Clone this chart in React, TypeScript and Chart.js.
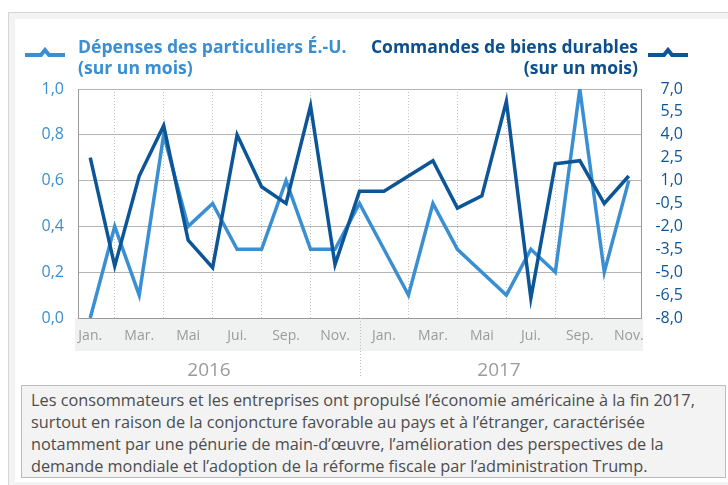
import React, { useEffect, useRef } from 'react';
import { Chart, registerables } from 'chart.js';

Chart.register(...registerables);

// ---- data ----
const months = [
  'Jan.', 'Févr.', 'Mar.', 'Avr.', 'Mai', 'Juin', 'Jui.', 'Août', 'Sep.', 'Oct.', 'Nov.', 'Déc.',
  'Jan.', 'Févr.', 'Mar.', 'Avr.', 'Mai', 'Juin', 'Jui.', 'Août', 'Sep.', 'Oct.', 'Nov.',
];
const years = ['2016', '2017'];
const spending = [0.0, 0.4, 0.1, 0.8, 0.4, 0.5, 0.3, 0.3, 0.6, 0.3, 0.3, 0.5, 0.3, 0.1, 0.5, 0.3, 0.2, 0.1, 0.3, 0.2, 1.0, 0.2, 0.6];
const durable = [2.5, -4.6, 1.3, 4.6, -2.9, -4.7, 4.0, 0.6, -0.5, 5.9, -4.5, 0.3, 0.3, 1.3, 2.3, -0.8, 0.0, 6.2, -6.7, 2.1, 2.3, -0.5, 1.3];
const leftAxis = { min: 0, max: 1, step: 0.2 };
const rightAxis = { min: -8, max: 7, step: 1.5 };
const yearSplitIndex = 11;

const LIGHT = '#3a8fd2';
const DARK = '#0c5697';
const FONT = '"Open Sans", "Noto Sans", sans-serif';

const fmt = (v: number) => Number(v).toFixed(1).replace('.', ',');

const decorPlugin = {
  id: 'decor',
  beforeDraw(chart: any) {
    const { ctx, chartArea } = chart;
    ctx.save();
    ctx.fillStyle = '#f0f2f2';
    ctx.fillRect(chartArea.left - 3, chartArea.bottom, chartArea.right - chartArea.left + 5, 33);
    ctx.restore();
  },
  afterDraw(chart: any) {
    const { ctx, chartArea } = chart;
    const x = Math.round(chart.scales.x.getPixelForValue(yearSplitIndex)) + 0.5;
    ctx.save();
    ctx.strokeStyle = '#bdbdbd';
    ctx.lineWidth = 1;
    ctx.setLineDash([1, 2]);
    ctx.beginPath();
    ctx.moveTo(x, chartArea.bottom);
    ctx.lineTo(x, chartArea.bottom + 59);
    ctx.stroke();
    ctx.restore();
  },
};

export default function App() {
  const ref = useRef<HTMLCanvasElement>(null);
  useEffect(() => {
    const chart = new Chart(ref.current as HTMLCanvasElement, {
      type: 'line',
      data: {
        labels: months,
        datasets: [
          {
            label: 'Commandes de biens durables (sur un mois)',
            data: durable,
            yAxisID: 'y2',
            borderColor: DARK,
            borderWidth: 3.5,
            pointRadius: 0,
            tension: 0,
            order: 1,
          },
          {
            label: 'Dépenses des particuliers É.-U. (sur un mois)',
            data: spending,
            yAxisID: 'y',
            borderColor: LIGHT,
            borderWidth: 3.5,
            pointRadius: 0,
            tension: 0,
            order: 2,
          },
        ],
      },
      options: {
        responsive: false,
        animation: false,
        events: [],
        layout: { autoPadding: false, padding: { left: 20, right: 45, top: 89, bottom: 134 } },
        plugins: { legend: { display: false }, tooltip: { enabled: false }, title: { display: false } },
        scales: {
          x: {
            type: 'category',
            offset: true,
            afterFit: (s: any) => { s.height = 33; },
            grid: {
              drawTicks: false,
              lineWidth: 1,
              color: (c: any) => (c.index % 2 === 1 ? '#c2c2c2' : 'rgba(0,0,0,0)'),
            },
            border: { display: true, color: '#9a9a9a', width: 1, dash: [1, 2] },
            ticks: {
              autoSkip: false,
              maxRotation: 0,
              padding: 10,
              color: '#9a9a9a',
              font: { family: FONT, size: 14 },
              callback: (_v: any, i: number) => (i % 2 === 0 ? months[i] : ''),
            },
          },
          y: {
            position: 'left',
            min: leftAxis.min,
            max: leftAxis.max,
            afterFit: (s: any) => { s.width = 58; },
            grid: { drawTicks: false, color: '#b4b4b4', lineWidth: 1 },
            border: { display: true, color: '#9a9a9a', width: 1 },
            ticks: {
              stepSize: leftAxis.step,
              padding: 14,
              color: LIGHT,
              font: { family: FONT, size: 16 },
              callback: (v: any) => fmt(v),
            },
          },
          y2: {
            position: 'right',
            min: rightAxis.min,
            max: rightAxis.max,
            afterFit: (s: any) => { s.width = 42; },
            grid: { display: false, drawTicks: false },
            border: { display: true, color: '#9a9a9a', width: 1 },
            ticks: {
              stepSize: rightAxis.step,
              crossAlign: 'far',
              padding: 10,
              color: DARK,
              font: { family: FONT, size: 16 },
              callback: (v: any) => fmt(v),
            },
          },
        },
      },
      plugins: [decorPlugin],
    } as any);
    return () => chart.destroy();
  }, []);

  const icon = (color: string) => (
    <svg width={42} height={12} viewBox="0 0 42 12" style={{ display: 'block' }}>
      <polyline points="1,8 17,8 21,3 25,8 41,8" fill="none" stroke={color} strokeWidth={4} strokeLinejoin="miter" />
    </svg>
  );

  return (
    <div style={{ position: 'absolute', left: 0, top: 0, width: 728, height: 485, overflow: 'hidden', background: '#fff', fontFamily: FONT }}>
      <div style={{ position: 'absolute', left: 8, top: 12, width: 740, height: 480, boxSizing: 'border-box', border: '1px solid #d6d6d6', background: '#f3f3f3' }} />
      <div style={{ position: 'absolute', left: 15, top: 19, width: 740, height: 463, background: '#fff' }} />
      <canvas ref={ref} width={728} height={485} style={{ position: 'absolute', left: 0, top: 0, width: 728, height: 485 }} />

      <div style={{ position: 'absolute', left: 24, top: 47 }}>{icon(LIGHT)}</div>
      <div style={{ position: 'absolute', left: 647, top: 47 }}>{icon(DARK)}</div>

      <div style={{ position: 'absolute', left: 78, top: 36, color: LIGHT, fontWeight: 700, fontSize: 17.6, lineHeight: '21px', whiteSpace: 'nowrap' }}>
        Dépenses des particuliers É.-U.<br />(sur un mois)
      </div>
      <div style={{ position: 'absolute', right: 90, top: 36, color: '#0d4f8c', fontWeight: 700, fontSize: 17.5, lineHeight: '21px', whiteSpace: 'nowrap', textAlign: 'right' }}>
        Commandes de biens durables<br />(sur un mois)
      </div>

      <div style={{ position: 'absolute', left: 209, top: 359, transform: 'translateX(-50%)', color: '#9b9b9b', fontSize: 19, lineHeight: '20px' }}>{years[0]}</div>
      <div style={{ position: 'absolute', left: 499, top: 359, transform: 'translateX(-50%)', color: '#9b9b9b', fontSize: 19, lineHeight: '20px' }}>{years[1]}</div>

      <div style={{ position: 'absolute', left: 21, top: 385, width: 705, height: 93, boxSizing: 'border-box', border: '1px solid #bcbcbc', background: '#f3f3f3', padding: '3px 0 0 9px', color: '#4d4d4d', fontSize: 16.3, lineHeight: '22px', whiteSpace: 'nowrap' }}>
        Les consommateurs et les entreprises ont propulsé l’économie américaine à la fin 2017,<br />
        surtout en raison de la conjoncture favorable au pays et à l’étranger, caractérisée<br />
        notamment par une pénurie de main-d’œuvre, l’amélioration des perspectives de la<br />
        demande mondiale et l’adoption de la réforme fiscale par l’administration Trump.
      </div>
    </div>
  );
}
